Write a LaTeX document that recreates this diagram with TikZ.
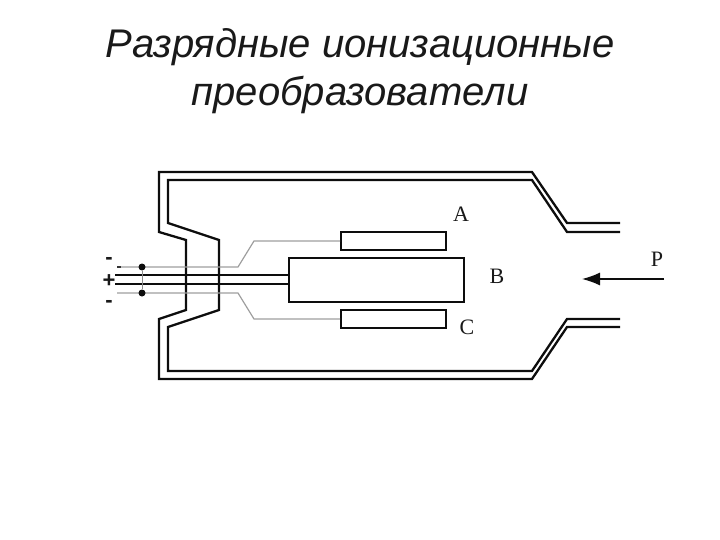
\documentclass[tikz,border=0pt]{standalone}
\usepackage{fontspec}
\setmainfont{Liberation Serif}
\newfontfamily\titlefont{Liberation Sans}
\usetikzlibrary{arrows.meta}

\begin{document}
\begin{tikzpicture}[
  x=1pt, y=-1pt,
  wall/.style={draw=black!95, line width=2.3pt, line join=miter},
  lead/.style={draw=black!38, line width=1.2pt},
  feed/.style={draw=black!95, line width=2.3pt},
  electrode/.style={draw=black!95, line width=2pt, fill=white, inner sep=0pt},
  letter/.style={inner sep=0pt, font=\fontsize{22}{22}\selectfont, text=black!90},
  sign/.style={inner sep=0pt, font=\titlefont\bfseries\fontsize{22}{22}\selectfont, text=black!90},
  junction/.style={circle, fill=black!95, inner sep=0pt, minimum size=7pt},
  title/.style={inner sep=0pt, align=center, font=\titlefont\itshape\fontsize{40}{48}\selectfont, text=black!90}
]
  \useasboundingbox (0,0) rectangle (720,540);

  \node[title] (heading) at (360,71) {Разрядные ионизационные\\преобразователи};

  % vacuum envelope
  \draw[wall] (620,223) -- (567,223) -- (532,172) -- (159,172) -- (159,232) -- (186,240)
    -- (186,310) -- (159,319) -- (159,379) -- (532,379) -- (567,327) -- (620,327);
  \draw[wall] (620,232) -- (567,232) -- (532,180) -- (168,180) -- (168,223) -- (219,240)
    -- (219,310) -- (168,327) -- (168,371) -- (532,371) -- (567,319) -- (620,319);

  % electrodes
  \node[electrode, minimum width=105pt, minimum height=18pt] (plateA) at (393.5,241) {};
  \node[electrode, minimum width=105pt, minimum height=18pt] (plateC) at (393.5,319) {};
  \node[electrode, minimum width=175pt, minimum height=44pt] (plateB) at (376.5,280) {};

  \coordinate (feedtop) at (115,275);
  \coordinate (feedbot) at (115,284);
  \coordinate (leadtop) at (117,267);
  \coordinate (leadbot) at (117,293);
  \coordinate (bendtop) at (238,267);
  \coordinate (bendbot) at (238,293);
  \coordinate (kneetop) at (254,241);
  \coordinate (kneebot) at (254,319);

  \draw[feed] (feedtop) -- (feedtop -| plateB.west);
  \draw[feed] (feedbot) -- (feedbot -| plateB.west);
  \draw[lead] (leadtop) -- (bendtop) -- (kneetop) -- (plateA.west);
  \draw[lead] (leadbot) -- (bendbot) -- (kneebot) -- (plateC.west);
  \draw[draw=black!80, line width=1.4pt] (leadtop) -- ++(4,0);

  \node[junction] (dottop) at (142,267) {};
  \node[junction] (dotbot) at (142,293) {};
  \draw[draw=black!45, line width=0.6pt] (dottop) -- (dotbot);

  % labels
  \node[letter] (labelA) at (461,214) {A};
  \node[letter] (labelB) at (497,276) {B};
  \node[letter] (labelC) at (467,327) {C};
  \node[letter] (labelP) at (657,259) {P};
  \node[sign] (minustop) at (109,261) {-};
  \node[sign] (plus) at (109,281) {+};
  \node[sign] (minusbot) at (109,304) {-};

  % gas flow
  \coordinate (flowstart) at (664,279);
  \coordinate (flowend) at (582,279);
  \draw[draw=black!95, line width=1.3pt, -{Latex[length=18pt,width=13pt]}] (flowstart) -- (flowend);
\end{tikzpicture}
\end{document}
